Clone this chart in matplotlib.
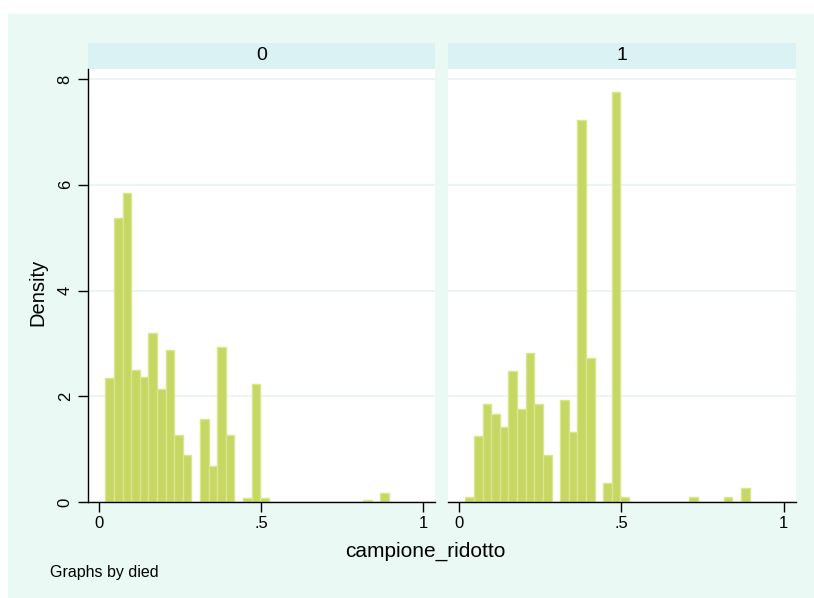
import numpy as np
import matplotlib
matplotlib.use("Agg")
import matplotlib.pyplot as plt
from matplotlib.patches import Rectangle

plt.rcParams["font.family"] = ["Liberation Sans", "DejaVu Sans"]

# histogram of campione_ridotto by died (density scale, common bins)
groups = ["0", "1"]
bin_start = 0.0195
bin_width = 0.02654
density_0 = [2.34, 5.37, 5.84, 2.49, 2.36, 3.19, 2.14, 2.87, 1.26, 0.88,
             0.0, 1.57, 0.68, 2.94, 1.26, 0.0, 0.076, 2.23, 0.076, 0.0,
             0.0, 0.0, 0.0, 0.0, 0.0, 0.0, 0.0, 0.0, 0.0, 0.0,
             0.03, 0.0, 0.165]
density_1 = [0.089, 1.24, 1.86, 1.67, 1.41, 2.47, 1.76, 2.82, 1.86, 0.88,
             0.0, 1.93, 1.32, 7.22, 2.73, 0.0, 0.35, 7.75, 0.089, 0.0,
             0.0, 0.0, 0.0, 0.0, 0.0, 0.0, 0.089, 0.0, 0.0, 0.0,
             0.089, 0.0, 0.265]
x_ticks = [0, 0.5, 1]
x_ticklabels = ["0", ".5", "1"]
y_ticks = [0, 2, 4, 6, 8]

W, H = 814, 598
BG = "#EAF9F4"
STRIP = "#DAF2F3"
BAR = "#C6D763"
BAR_EDGE = "#D8E68C"
GRID = "#E8F5F1"

fig = plt.figure(figsize=(W / 100, H / 100), dpi=100, facecolor="white")


def fx(px):
    return px / W


def fy(py):
    return 1 - py / H


# outer background
fig.patches.append(Rectangle((fx(8), 0), 1 - fx(8), fy(14), transform=fig.transFigure,
                             facecolor=BG, edgecolor="none", zorder=-10))

panels = [(88, 435), (448, 795.7)]
top, bottom = 69, 502
densities = [density_0, density_1]

for i, ((x0, x1), dens) in enumerate(zip(panels, densities)):
    ax = fig.add_axes([fx(x0), fy(bottom), fx(x1 - x0), (bottom - top) / H])
    ax.set_zorder(1)
    ax.set_facecolor("white")

    dens = np.array(dens)
    edges = bin_start + bin_width * np.arange(len(dens))
    keep = dens > 0
    ax.bar(edges[keep], dens[keep], width=bin_width, align="edge",
           color=BAR, edgecolor=BAR_EDGE, linewidth=1.0, zorder=2)

    ax.set_xlim(-0.034, 1.037)
    ax.set_ylim(0, 8.19)
    ax.set_yticks(y_ticks)
    ax.yaxis.grid(True, color=GRID, linewidth=1.2, zorder=0)
    ax.set_axisbelow(True)

    ax.set_xticks(x_ticks)
    ax.set_xticklabels(x_ticklabels)
    ax.tick_params(axis="x", length=7, width=1, labelsize=12, pad=3, color="black")

    for side in ["top", "right"]:
        ax.spines[side].set_visible(False)
    ax.spines["bottom"].set_linewidth(1.0)
    if i == 0:
        ax.spines["left"].set_linewidth(1.0)
        ax.tick_params(axis="y", length=7, width=1, labelsize=12, pad=4)
        for lab in ax.get_yticklabels():
            lab.set_rotation(90)
            lab.set_va("center")
    else:
        ax.spines["left"].set_visible(False)
        ax.tick_params(axis="y", left=False, labelleft=False)

    # panel header strip
    fig.patches.append(Rectangle((fx(x0), fy(top)), fx(x1 - x0), (top - 42.7) / H,
                                 transform=fig.transFigure, facecolor=STRIP,
                                 edgecolor="none", zorder=-5))
    fig.text(fx((x0 + x1) / 2), fy((top + 42.7) / 2), groups[i],
             ha="center", va="center", fontsize=14)

fig.text(fx(38), fy(292), "Density", rotation=90, ha="center", va="center", fontsize=14.5)
fig.text(fx(425.5), fy(551), "campione_ridotto", ha="center", va="center", fontsize=15)
fig.text(fx(50), fy(573), "Graphs by died", ha="left", va="center", fontsize=11.5)

fig.savefig("out.png", dpi=100, facecolor=fig.get_facecolor())
